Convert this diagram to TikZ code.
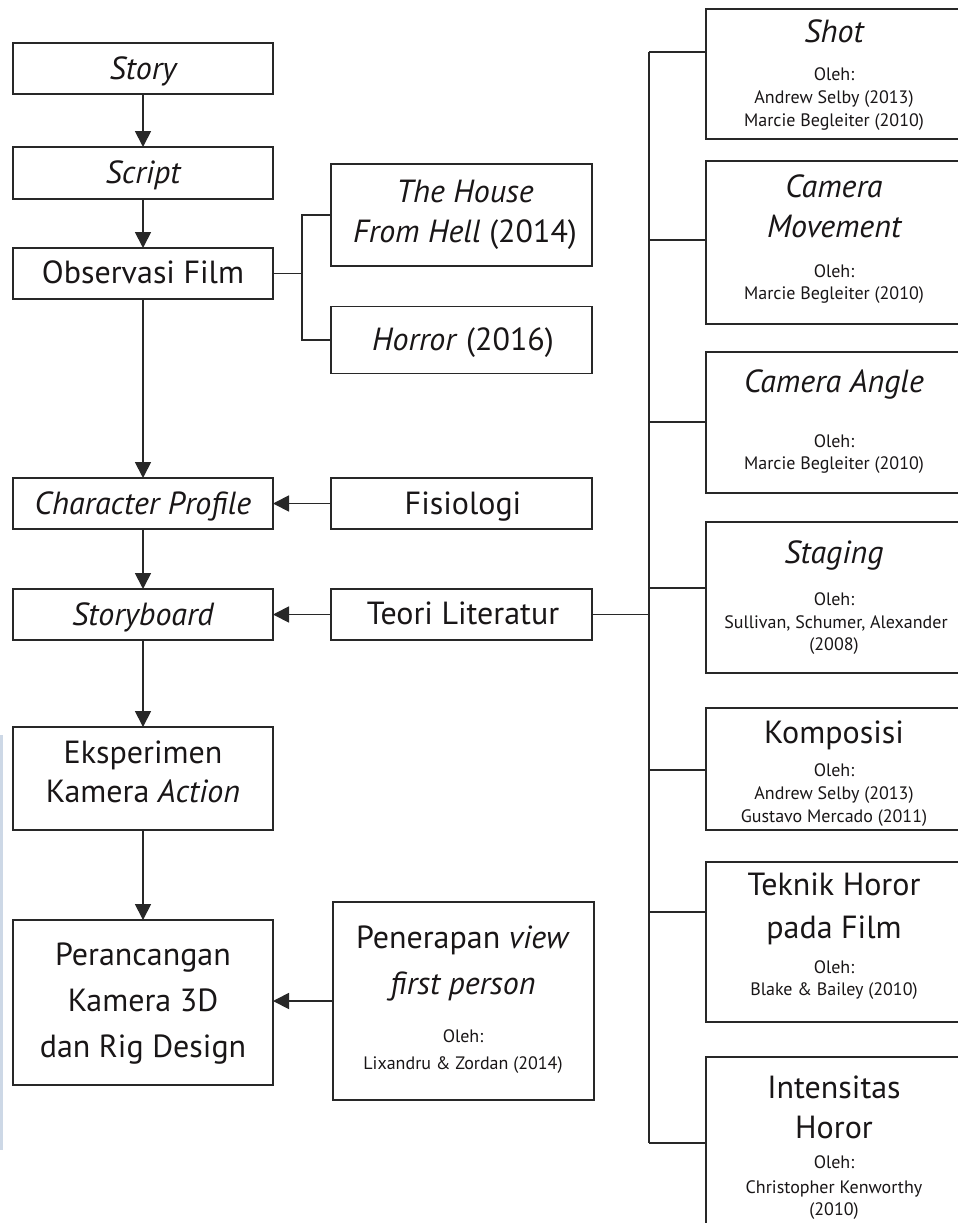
\documentclass[tikz,border=0pt]{standalone}
\usepackage{fontspec}
\setmainfont{PT Sans}
\usetikzlibrary{arrows.meta}
\definecolor{ink}{RGB}{25,22,23}
\definecolor{linec}{RGB}{40,40,40}
\definecolor{strip}{RGB}{205,216,230}
\begin{document}
\begin{tikzpicture}[x=1pt,y=-1pt,
  box/.style={draw=linec, line width=1.8pt, inner sep=0pt, outer sep=0pt},
  big/.style={anchor=base, inner sep=0pt, text=ink, font=\fontsize{32}{40}\selectfont},
  sml/.style={anchor=base, inner sep=0pt, text=ink, font=\fontsize{18}{22}\selectfont},
  conn/.style={draw=linec, line width=1.8pt},
  arr/.style={conn, -{Triangle[length=16pt,width=16pt]}}]
\useasboundingbox (0,0) rectangle (958,1223);
\clip (0,0) rectangle (958,1223);
\fill[white] (0,0) rectangle (958,1223);
\fill[strip] (0,735) rectangle (2.5,1150);

% left column
\node[box, minimum width=260, minimum height=51] (story) at (143,68.5) {};
\node[box, minimum width=260, minimum height=52] (script) at (143,173) {};
\node[box, minimum width=260, minimum height=51] (obs) at (143,273.5) {};
\node[box, minimum width=260, minimum height=51] (char) at (143,503.5) {};
\node[box, minimum width=260, minimum height=51] (sb) at (143,614.5) {};
\node[box, minimum width=260, minimum height=103] (eks) at (143,778.5) {};
\node[box, minimum width=260, minimum height=165] (per) at (143,1002.5) {};

% middle column
\node[box, minimum width=261, minimum height=102] (house) at (461.5,215) {};
\node[box, minimum width=261, minimum height=67] (horror) at (461.5,340) {};
\node[box, minimum width=261, minimum height=51] (fis) at (461.5,503.5) {};
\node[box, minimum width=261, minimum height=51] (teori) at (461.5,614.5) {};
\node[box, minimum width=261, minimum height=198] (pen) at (463.5,1001) {};

% right column
\node[box, minimum width=256, minimum height=130] (shot) at (834,74) {};
\node[box, minimum width=256, minimum height=163] (cmov) at (834,242.5) {};
\node[box, minimum width=256, minimum height=141] (cang) at (834,422.5) {};
\node[box, minimum width=256, minimum height=151] (stag) at (834,597.5) {};
\node[box, minimum width=256, minimum height=122] (komp) at (834,769) {};
\node[box, minimum width=256, minimum height=160] (tek) at (834,942) {};
\node[box, minimum width=256, minimum height=172] (ints) at (834,1143) {};

% texts left
\node[big] (tstory) at (143,80) {\itshape Story};
\node[big] (tscript) at (143,183) {\itshape Script};
\node[big] (tobs) at (143,283) {Observasi Film};
\node[big] (tchar) at (143,514) {\itshape Character Profile};
\node[big] (tsb) at (143,625) {\itshape Storyboard};
\node[big] (teks1) at (143,763) {Eksperimen};
\node[big] (teks2) at (143,802) {Kamera \textit{Action}};
\node[big] (tper1) at (143,965) {Perancangan};
\node[big] (tper2) at (143,1011) {Kamera 3D};
\node[big] (tper3) at (143,1057) {dan Rig Design};

% texts middle
\node[big] (thouse1) at (465,202) {\itshape The House};
\node[big] (thouse2) at (465,242) {\textit{From Hell} (2014)};
\node[big] (thorror) at (463,350) {\textit{Horror} (2016)};
\node[big] (tfis) at (463,514) {Fisiologi};
\node[big] (tteori) at (463,624) {Teori Literatur};
\node[big] (tpen1) at (463,948) {Penerapan \textit{view}};
\node[big] (tpen2) at (463,994) {\itshape first person};
\node[sml] (tpen3) at (463,1042) {Oleh:};
\node[sml] (tpen4) at (463,1069) {Lixandru \& Zordan (2014)};

% texts right
\node[big] (tshot) at (834,43) {\itshape Shot};
\node[sml] (tshot2) at (834,81) {Oleh:};
\node[sml] (tshot3) at (834,103) {Andrew Selby (2013)};
\node[sml] (tshot4) at (834,126) {Marcie Begleiter (2010)};

\node[big] (tcm1) at (834,197) {\itshape Camera};
\node[big] (tcm2) at (834,237) {\itshape Movement};
\node[sml] (tcm3) at (834,277) {Oleh:};
\node[sml] (tcm4) at (834,299) {Marcie Begleiter (2010)};

\node[big] (tca1) at (834,392) {\itshape Camera Angle};
\node[sml] (tca2) at (834,447) {Oleh:};
\node[sml] (tca3) at (834,469) {Marcie Begleiter (2010)};

\node[big] (tst1) at (834,563) {\itshape Staging};
\node[sml] (tst2) at (834,605) {Oleh:};
\node[sml] (tst3) at (836,628) {Sullivan, Schumer, Alexander};
\node[sml] (tst4) at (834,650) {(2008)};

\node[big] (tko1) at (834,743) {Komposisi};
\node[sml] (tko2) at (834,776) {Oleh:};
\node[sml] (tko3) at (834,799) {Andrew Selby (2013)};
\node[sml] (tko4) at (834,822) {Gustavo Mercado (2011)};

\node[big] (tte1) at (834,895) {Teknik Horor};
\node[big] (tte2) at (834,938) {pada Film};
\node[sml] (tte3) at (834,973) {Oleh:};
\node[sml] (tte4) at (834,995) {Blake \& Bailey (2010)};

\node[big] (tin1) at (834,1098) {Intensitas};
\node[big] (tin2) at (834,1138) {Horor};
\node[sml] (tin3) at (834,1168) {Oleh:};
\node[sml] (tin4) at (834,1193) {Christopher Kenworthy};
\node[sml] (tin5) at (834,1215) {(2010)};

% vertical flow
\draw[arr] (story) -- (script);
\draw[arr] (script) -- (obs);
\draw[arr] (obs) -- (char);
\draw[arr] (char) -- (sb);
\draw[arr] (sb) -- (eks);
\draw[arr] (eks) -- (per);

% horizontal arrows
\draw[arr] (fis) -- (char);
\draw[arr] (teori) -- (sb);
\draw[arr] (pen.west) -- (per.east |- pen.west);

% branch from Observasi Film
\coordinate (ob) at (302,273.5);
\coordinate (obT) at (302,215);
\coordinate (obB) at (302,340);
\draw[conn] (obs.east) -- (ob);
\draw[conn] (house.west) -- (obT) -- (obB) -- (horror.west);

% trunk from Teori Literatur
\coordinate (tr) at (649,614.5);
\coordinate (b1) at (649,52);
\coordinate (b2) at (649,240);
\coordinate (b3) at (649,422);
\coordinate (b4) at (649,588);
\coordinate (b5) at (649,770);
\coordinate (b6) at (649,912);
\coordinate (b7) at (649,1143);
\draw[conn] (teori.east) -- (tr);
\draw[conn] (b1) -- (b7);
\draw[conn] (b1) -- (b1 -| shot.west);
\draw[conn] (b2) -- (b2 -| cmov.west);
\draw[conn] (b3) -- (b3 -| cang.west);
\draw[conn] (b4) -- (b4 -| stag.west);
\draw[conn] (b5) -- (b5 -| komp.west);
\draw[conn] (b6) -- (b6 -| tek.west);
\draw[conn] (b7) -- (b7 -| ints.west);
\end{tikzpicture}
\end{document}
